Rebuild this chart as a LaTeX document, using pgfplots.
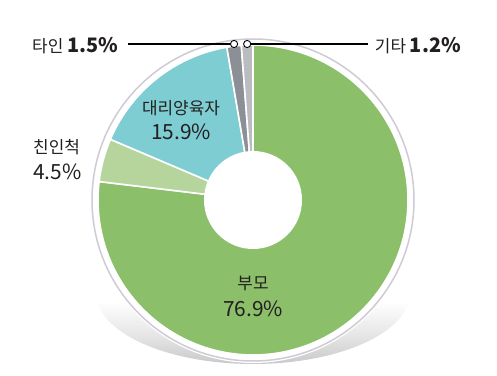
\documentclass[border=0pt]{standalone}
\usepackage{pgfplots}
\pgfplotsset{compat=1.18}
\usepackage{pgfplotstable}
\usepackage{fontspec}
\setmainfont{Noto Sans CJK KR}
\usetikzlibrary{shadings}

\definecolor{pA}{RGB}{139,191,106}
\definecolor{pB}{RGB}{181,213,157}
\definecolor{pC}{RGB}{126,205,210}
\definecolor{pD}{RGB}{140,143,149}
\definecolor{pE}{RGB}{186,188,193}
\definecolor{ringgray}{RGB}{206,203,214}
\definecolor{txt}{RGB}{35,31,32}
\pgfdeclareverticalshading{pieshadow}{100bp}{color(0bp)=(black!21); color(25bp)=(black!21); color(34bp)=(black!11); color(47bp)=(white); color(100bp)=(white)}

\pgfplotstableread{
value
76.9
4.5
15.9
1.5
1.2
}\piedata

\newcommand\getv[2]{\pgfplotstablegetelem{#1}{value}\of\piedata\global\let#2\pgfplotsretval}
\getv{0}{\vA}\getv{1}{\vB}\getv{2}{\vC}\getv{3}{\vD}\getv{4}{\vE}
\pgfmathsetmacro\aA{90}
\pgfmathsetmacro\aB{\aA-3.6*\vA}
\pgfmathsetmacro\aC{\aB-3.6*\vB}
\pgfmathsetmacro\aD{\aC-3.6*\vC}
\pgfmathsetmacro\aE{\aD-3.6*\vD}
\pgfmathsetmacro\aF{\aE-3.6*\vE}
\pgfmathsetmacro\mD{(\aD+\aE)/2}
\pgfmathsetmacro\mE{(\aE+\aF)/2}
\newcommand\slice[3]{\fill[#1,draw=white,line width=1.6bp,line join=round] (axis cs:253,176) -- (axis cs:{253+155*cos(#2)},{176+155*sin(#2)}) arc[start angle=#2,end angle=#3,radius=155bp] -- cycle;}

\begin{document}
\begin{tikzpicture}
\begin{axis}[scale only axis, width=497bp, height=376bp,
  xmin=0, xmax=497, ymin=0, ymax=376, hide axis, clip=false,
  anchor=south west, at={(0,0)}]
% shadow
\shade[shading=pieshadow] (axis cs:253,83) ellipse[x radius=157bp, y radius=71bp];
\fill[white] (axis cs:253,176) circle[radius=163bp];
\draw[ringgray, line width=1.5bp] (axis cs:253,176) circle[radius=161bp];
% slices
\slice{pA}{\aA}{\aB}
\slice{pB}{\aB}{\aC}
\slice{pC}{\aC}{\aD}
\slice{pD}{\aD}{\aE}
\slice{pE}{\aE}{\aF}
\fill[white] (axis cs:253,176) circle[radius=49bp];
% leader lines
\draw[black, line width=1.1bp] (axis cs:128,332) -- (axis cs:{253+155*cos(\mD)},332);
\draw[black, line width=1.1bp] (axis cs:368,332) -- (axis cs:{253+155*cos(\mE)},332);
\filldraw[fill=white, draw=black, line width=0.9bp] (axis cs:{253+155*cos(\mD)},332) circle[radius=3.6bp];
\filldraw[fill=white, draw=black, line width=0.9bp] (axis cs:{253+155*cos(\mE)},332) circle[radius=3.6bp];
% labels
\node[anchor=base west, inner sep=0pt, text=txt] at (axis cs:32,323) {\fontsize{17}{17}\selectfont 타인 \textbf{\fontsize{20}{20}\selectfont 1.5\%}};
\node[anchor=base east, inner sep=0pt, text=txt] at (axis cs:461,323) {\fontsize{17}{17}\selectfont 기타 \textbf{\fontsize{20}{20}\selectfont 1.2\%}};
\node[inner sep=0pt, text=txt] at (axis cs:181,268) {\fontsize{17}{17}\selectfont 대리양육자};
\node[inner sep=0pt, text=txt] at (axis cs:181,244) {\fontsize{21}{21}\selectfont 15.9\%};
\node[anchor=west, inner sep=0pt, text=txt] at (axis cs:33,229) {\fontsize{17}{17}\selectfont 친인척};
\node[anchor=west, inner sep=0pt, text=txt] at (axis cs:33,204) {\fontsize{21}{21}\selectfont 4.5\%};
\node[inner sep=0pt, text=txt] at (axis cs:253,93) {\fontsize{17}{17}\selectfont 부모};
\node[inner sep=0pt, text=txt] at (axis cs:253,67) {\fontsize{21}{21}\selectfont 76.9\%};
\coordinate (SW) at (axis cs:0,0);
\coordinate (NE) at (axis cs:497,376);
\end{axis}
\pgfresetboundingbox
\path (SW) rectangle (NE);
\end{tikzpicture}
\end{document}
